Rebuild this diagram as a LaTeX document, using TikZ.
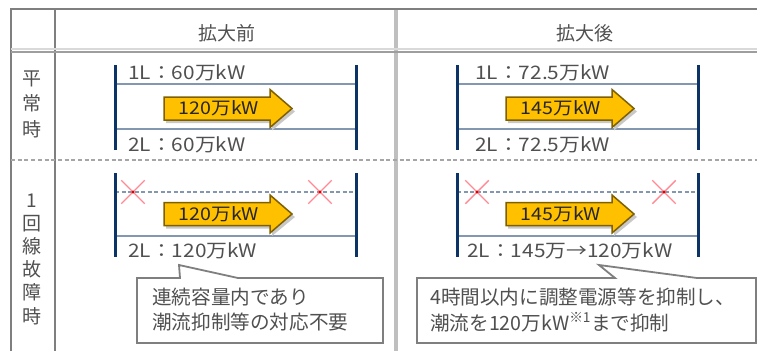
\documentclass[tikz,border=0pt]{standalone}
\usepackage{fontspec}
\setmainfont{Noto Sans CJK JP}
\newfontfamily\labfont[FakeStretch=1.12]{Noto Sans CJK JP}
\usetikzlibrary{calc,shapes.misc}
\definecolor{tblgrey}{HTML}{7F7F7F}
\definecolor{tbllight}{HTML}{BFBFBF}
\definecolor{busnavy}{HTML}{0B3366}
\definecolor{linegrey}{HTML}{8497B0}
\definecolor{arrowfill}{HTML}{FFC000}
\definecolor{arrowedge}{HTML}{7F6000}
\definecolor{shadowgrey}{HTML}{C8C8C8}
\definecolor{txtgrey}{HTML}{505050}
\definecolor{crossred}{HTML}{FF8A94}
\tikzset{
  tblline/.style={draw=tblgrey, line width=2pt},
  busbar/.style={draw=busnavy, line width=3pt},
  feeder/.style={draw=linegrey, line width=2pt},
  feederdash/.style={draw=linegrey, line width=2pt, dash pattern=on 4pt off 2.5pt},
  lab/.style={font=\labfont\fontsize{18.6}{20}\selectfont, text=txtgrey, anchor=west, inner sep=0pt},
  hdr/.style={font=\fontsize{19}{21}\selectfont, text=txtgrey, inner sep=0pt},
  arrowtxt/.style={font=\labfont\fontsize{17.5}{19}\selectfont, text=black!85, inner sep=0pt},
  boxtxt/.style={font=\fontsize{19.6}{21}\selectfont, text=txtgrey, anchor=west, inner sep=0pt},
  calloutbox/.style={draw=tblgrey, line width=1.8pt, fill=white, line join=miter},
  crossmark/.style={draw=crossred, line width=1.4pt, cross out, minimum size=22pt, inner sep=0pt},
}
\newcommand\flowarrow[4]{%
  \begin{scope}[shift={(#2,#3)}]
    \fill[shadowgrey] (2,-8.5) -- (108,-8.5) -- (108,-16) -- (131,3) -- (108,22) -- (108,14.5) -- (2,14.5) -- cycle;
    \draw[arrowedge, fill=arrowfill, line width=1.5pt, line join=miter]
      (0,-11.5) -- (106,-11.5) -- (106,-19) -- (128,0) -- (106,19) -- (106,11.5) -- (0,11.5) -- cycle;
    \node[arrowtxt] (#1) at (55,0) {#4};
  \end{scope}}
\begin{document}
\begin{tikzpicture}[x=1pt,y=-1pt]
\useasboundingbox (0,0) rectangle (757,351);
% ---- table frame
\draw[tbllight, line width=3.5pt] (396,9) -- (396,351);
\draw[tblline] (11,351) -- (11,9) -- (757,9);
\draw[tblline] (55,9) -- (55,351);
\draw[draw=black!15, line width=2pt] (11,49) -- (757,49);
\draw[draw=black!38, line width=2pt] (11,51.5) -- (757,51.5);
\draw[draw=black!35, line width=2.5pt, dash pattern=on 4pt off 2.7pt] (11,160) -- (757,160);
% ---- headers
\node[hdr] (h1) at (227,33) {拡大前};
\node[hdr] (h2) at (585,33) {拡大後};
\node[hdr, align=center, font=\fontsize{19}{25.5}\selectfont] (r1) at (32,104) {平\\常\\時};
\node[hdr, align=center, font=\fontsize{19}{23.2}\selectfont] (r2) at (32,259) {1\\回\\線\\故\\障\\時};
% ---- row 1 left
\coordinate (aL1) at (115,84);  \coordinate (aR1) at (356,84);
\coordinate (aL2) at (115,129); \coordinate (aR2) at (356,129);
\draw[feeder] (aL1) -- (aR1);
\draw[feeder] (aL2) -- (aR2);
\draw[busbar] (115,65) -- (115,150);
\draw[busbar] (356,65) -- (356,150);
\flowarrow{fa}{164}{108.5}{120万kW}
\node[lab] (la1) at (128,73) {1L：60万kW};
\node[lab] (la2) at (128,145) {2L：60万kW};
% ---- row 1 right
\coordinate (bL1) at (457,84);  \coordinate (bR1) at (698,84);
\coordinate (bL2) at (457,129); \coordinate (bR2) at (698,129);
\draw[feeder] (bL1) -- (bR1);
\draw[feeder] (bL2) -- (bR2);
\draw[busbar] (457,65) -- (457,150);
\draw[busbar] (698,65) -- (698,150);
\flowarrow{fb}{506}{108.5}{145万kW}
\node[lab] (lb1) at (475,73) {1L：72.5万kW};
\node[lab] (lb2) at (475,145) {2L：72.5万kW};
% ---- row 2 left
\coordinate (cL1) at (115,192);  \coordinate (cR1) at (356,192);
\coordinate (cL2) at (115,236); \coordinate (cR2) at (356,236);
\draw[feederdash] (cL1) -- (cR1);
\draw[feeder] (cL2) -- (cR2);
\draw[busbar] (115,173) -- (115,257);
\draw[busbar] (356,173) -- (356,257);
\node[crossmark] (x1) at (133,192) {};
\node[crossmark] (x2) at (320,192) {};
\fill[red!85!black] (x1.center) circle (1.6pt);
\fill[red!85!black] (x2.center) circle (1.6pt);
\flowarrow{fc}{164}{214}{120万kW}
\node[lab] (lc2) at (128,251) {2L：120万kW};
% ---- row 2 right
\coordinate (dL1) at (457,192);  \coordinate (dR1) at (698,192);
\coordinate (dL2) at (457,236); \coordinate (dR2) at (698,236);
\draw[feederdash] (dL1) -- (dR1);
\draw[feeder] (dL2) -- (dR2);
\draw[busbar] (457,173) -- (457,257);
\draw[busbar] (698,173) -- (698,257);
\node[crossmark] (x3) at (477,192) {};
\node[crossmark] (x4) at (664,192) {};
\fill[red!85!black] (x3.center) circle (1.6pt);
\fill[red!85!black] (x4.center) circle (1.6pt);
\flowarrow{fd}{506}{214}{145万kW}
\node[lab] (ld2) at (467,251) {2L：145万→120万kW};
% ---- callouts
\coordinate (tipA) at (179,265);
\draw[calloutbox] (137,278) -- (180,278) -- (tipA) -- (238,278) -- (383,278) -- (383,343) -- (137,343) -- cycle;
\node[boxtxt] (ca1) at (152,297) {連続容量内であり};
\node[boxtxt] (ca2) at (152,322) {潮流抑制等の対応不要};
\coordinate (tipB) at (599,265);
\draw[calloutbox] (417,278) -- (615,278) -- (tipB) -- (697,278) -- (756,278) -- (756,343) -- (417,343) -- cycle;
\node[boxtxt] (cb1) at (430,297) {4時間以内に調整電源等を抑制し、};
\node[boxtxt] (cb2) at (430,322) {潮流を120万kW\textsuperscript{※1}まで抑制};
\end{tikzpicture}
\end{document}
